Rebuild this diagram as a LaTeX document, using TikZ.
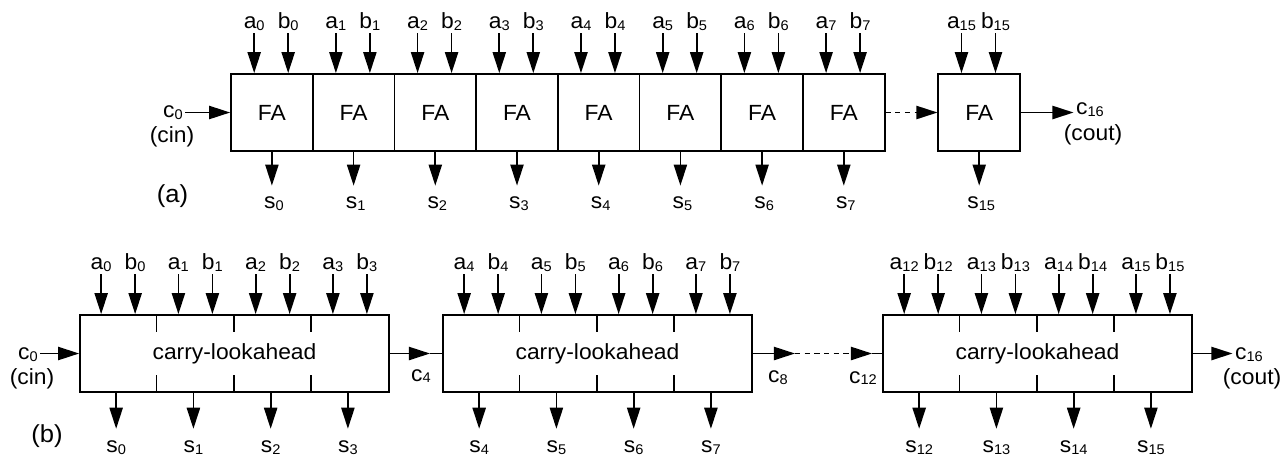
\documentclass[tikz,border=0pt]{standalone}
\usepackage{fontspec}
\setmainfont{Liberation Sans}[FakeStretch=1.04]
\usetikzlibrary{arrows.meta, calc}
\newcommand{\sigidx}[2]{#1\raisebox{-0.15ex}{\fontsize{8}{9}\selectfont #2}}

\begin{document}
\begin{tikzpicture}[x=0.02cm, y=-0.02cm, line width=1pt, >={Triangle[length=12pt, width=7.5pt]},
  font=\fontsize{12.5}{14}\selectfont,
  fa/.style={draw, minimum width=1.634cm, minimum height=1.54cm, inner sep=0pt},
  cla/.style={draw, minimum width=6.18cm, minimum height=1.54cm, inner sep=0pt},
  sig/.style={inner sep=1pt},
  bitin/.style={anchor=south, inner sep=1pt},
  bitout/.style={inner sep=1pt},
  caption/.style={inner sep=1pt, font=\fontsize{14}{16}\selectfont},
  gap/.style={dash pattern=on 3pt off 2.5pt}]
\useasboundingbox (0,0) rectangle (1283,458);

% (a) ripple-carry adder
\foreach \i in {0,...,7} {
  \node[fa] (fa\i) at ({271.9+81.7*\i},112.5) {FA};
  \node[bitin] (ra\i) at ($(fa\i.north west)+(24,-40)$) {\sigidx{a}{\i}};
  \node[bitin] (rb\i) at ($(fa\i.north west)+(58,-40)$) {\sigidx{b}{\i}};
  \node[bitout] (rs\i) at ($(fa\i.south)+(2,52)$) {\sigidx{s}{\i}};
  \draw[->] (ra\i.south) -- (ra\i.south |- fa\i.north);
  \draw[->] (rb\i.south) -- (rb\i.south |- fa\i.north);
  \draw[->, shorten >=5pt] (fa\i.south) -- (fa\i.south |- rs\i.north);
}
\node[fa] (fa15) at (979.2,112.5) {FA};
\node[bitin] (ra15) at ($(fa15.north west)+(24,-40)$) {\sigidx{a}{15}};
\node[bitin] (rb15) at ($(fa15.north west)+(58,-40)$) {\sigidx{b}{15}};
\node[bitout] (rs15) at ($(fa15.south)+(2,52)$) {\sigidx{s}{15}};
\draw[->] (ra15.south) -- (ra15.south |- fa15.north);
\draw[->] (rb15.south) -- (rb15.south |- fa15.north);
\draw[->, shorten >=5pt] (fa15.south) -- (fa15.south |- rs15.north);

\node[sig] (rc0) at (173,113) {\sigidx{c}{0}};
\node[sig] (rcin) at (172,137) {(cin)};
\draw[->] (rc0.east |- fa0.west) -- (fa0.west);
\draw[->, gap] (fa7.east) -- (fa15.west);
\node[sig] (rc16) at (1090,110) {\sigidx{c}{16}};
\node[sig] (rcout) at (1093,135) {(cout)};
\draw[->] (fa15.east) -- (rc16.west |- fa15.east);
\node[caption] (capa) at (172.5,196.5) {(a)};

% (b) carry-lookahead blocks
\foreach \blk/\x/\lo in {1/234.5/0, 2/597.5/4, 3/1037.5/12} {
  \node[cla] (cla\blk) at (\x,353.5) {carry-lookahead};
  \foreach \q in {1,2,3} {
    \draw ($(cla\blk.north west)+({77.25*\q},0)$) -- ++(0,18);
    \draw ($(cla\blk.south west)+({77.25*\q},0)$) -- ++(0,-18);
  }
  \foreach \q in {0,...,3} {
    \pgfmathtruncatemacro{\n}{\lo+\q}
    \node[bitin] (la\n) at ($(cla\blk.north west)+({77.25*\q+22},-40)$) {\sigidx{a}{\n}};
    \node[bitin] (lb\n) at ($(cla\blk.north west)+({77.25*\q+56},-40)$) {\sigidx{b}{\n}};
    \node[bitout] (ls\n) at ($(cla\blk.south west)+({77.25*\q+37},55)$) {\sigidx{s}{\n}};
    \draw[->] (la\n.south) -- (la\n.south |- cla\blk.north);
    \draw[->] (lb\n.south) -- (lb\n.south |- cla\blk.north);
    \draw[->, shorten >=5.5pt] (ls\n |- cla\blk.south) -- (ls\n.north);
  }
}

\node[sig] (lc0) at (28,355) {\sigidx{c}{0}};
\node[sig] (lcin) at (32,379) {(cin)};
\draw[->] (lc0.east |- cla1.west) -- (cla1.west);

\coordinate (c4tip) at (430,353.5);
\draw[->] (cla1.east) -- (c4tip);
\draw (c4tip) -- (cla2.west);
\node[sig] (lc4) at (421,376) {\sigidx{c}{4}};

\coordinate (c8tip) at (795,353.5);
\coordinate (c12tip) at (872,353.5);
\draw[->] (cla2.east) -- (c8tip);
\draw[->, gap] (c8tip) -- (c12tip);
\draw (c12tip) -- (cla3.west);
\node[sig] (lc8) at (778,378) {\sigidx{c}{8}};
\node[sig] (lc12) at (863,378) {\sigidx{c}{12}};

\node[sig] (lc16) at (1249,355) {\sigidx{c}{16}};
\node[sig] (lcout) at (1252,379) {(cout)};
\draw[->] (cla3.east) -- (lc16.west |- cla3.east);
\node[caption] (capb) at (47,436) {(b)};
\end{tikzpicture}
\end{document}
